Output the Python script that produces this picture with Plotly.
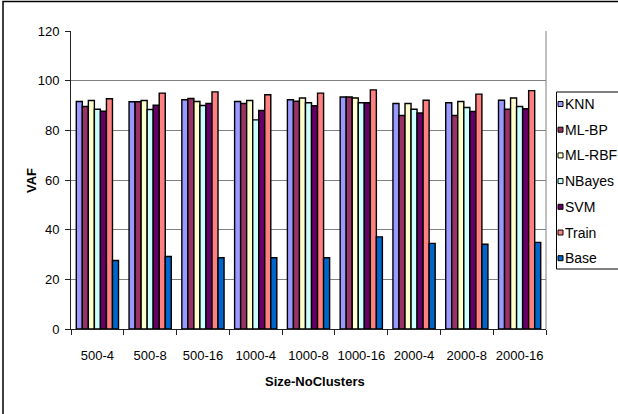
import plotly.graph_objects as go

categories = ["500-4", "500-8", "500-16", "1000-4", "1000-8", "1000-16",
              "2000-4", "2000-8", "2000-16"]

knn    = [91.6, 91.5, 92.3, 91.6, 92.3, 93.4, 90.8, 91.1, 92.1]
ml_bp  = [89.6, 91.5, 92.8, 90.8, 91.7, 93.4, 86.0, 86.0, 88.5]
ml_rbf = [92.0, 92.0, 91.6, 92.0, 93.0, 93.0, 90.8, 91.6, 93.0]
nbayes = [88.5, 88.4, 90.0, 84.2, 91.1, 91.1, 88.5, 89.2, 89.6]
svm    = [87.7, 90.1, 90.8, 88.0, 89.9, 91.1, 87.0, 87.6, 88.7]
train  = [92.7, 95.0, 95.5, 94.3, 95.0, 96.3, 92.1, 94.6, 96.0]
base   = [27.6, 29.2, 28.7, 28.7, 28.7, 37.1, 34.5, 34.1, 34.9]

series_names = ["KNN", "ML-BP", "ML-RBF", "NBayes", "SVM", "Train", "Base"]
series_values = [knn, ml_bp, ml_rbf, nbayes, svm, train, base]
series_colors = ["#9999FF", "#993366", "#FFFFCC", "#CCFFFF", "#660066", "#FF8080", "#0066CC"]

FONT = "Liberation Sans, Arial, sans-serif"

# plot area in pixels: x 71..546, y 31..329
L, R, T, B = 71, 72, 31, 85
W, H = 618, 414
pw, ph = W - L - R, H - T - B

def px_x(p):
    return (p - L) / pw

def px_y(p):
    return (H - B - p) / ph

fig = go.Figure()
for name, vals, col in zip(series_names, series_values, series_colors):
    fig.add_trace(go.Bar(
        x=categories, y=vals, name=name, showlegend=False,
        marker=dict(color=col, line=dict(color="#000000", width=1.4)),
    ))

shapes = [
    # right edge of the plot area
    dict(type="line", xref="paper", yref="paper", x0=1, x1=1, y0=0, y1=1,
         line=dict(color="#808080", width=1)),
    # outer chart frame
    dict(type="rect", xref="paper", yref="paper",
         x0=px_x(3), x1=px_x(640), y0=px_y(440), y1=px_y(1.5),
         line=dict(color="#000000", width=1.5), layer="above"),
    # legend box
    dict(type="rect", xref="paper", yref="paper",
         x0=px_x(556.5), x1=px_x(630), y0=px_y(269), y1=px_y(92),
         line=dict(color="#000000", width=1), fillcolor="white", layer="above"),
]

annotations = [
    dict(text="<b>Size-NoClusters</b>", xref="paper", yref="paper",
         x=px_x(315), y=px_y(381), xanchor="center", yanchor="middle",
         showarrow=False, font=dict(family=FONT, size=13)),
    dict(text="<b>VAF</b>", xref="paper", yref="paper",
         x=px_x(31), y=px_y(181), xanchor="center", yanchor="middle",
         textangle=-90, showarrow=False, font=dict(family=FONT, size=13)),
]

# legend entries: small outlined swatch + label
entry_top, entry_step = 104, 25.7
for i, (name, col) in enumerate(zip(series_names, series_colors)):
    cy = entry_top + i * entry_step
    shapes.append(dict(
        type="rect", xref="paper", yref="paper",
        x0=px_x(558), x1=px_x(563), y0=px_y(cy + 2.5), y1=px_y(cy - 2.5),
        fillcolor=col, line=dict(color="#000000", width=1), layer="above"))
    annotations.append(dict(
        text=name, xref="paper", yref="paper",
        x=px_x(563), y=px_y(cy), xanchor="left", yanchor="middle",
        showarrow=False, font=dict(family=FONT, size=14, color="#000000")))

fig.update_layout(
    width=W, height=H,
    margin=dict(l=L, r=R, t=T, b=B, pad=0, autoexpand=False),
    paper_bgcolor="white", plot_bgcolor="white",
    font=dict(family=FONT, size=13, color="#000000"),
    barmode="group", bargap=0.2, bargroupgap=0,
    showlegend=False,
    xaxis=dict(
        type="category", showgrid=False,
        showline=True, linecolor="#222222", linewidth=1,
        ticks="outside", tickson="boundaries", ticklen=5,
        tickcolor="#222222", tickfont=dict(family=FONT, size=13),
        tickangle=0, ticklabelstandoff=14,
    ),
    yaxis=dict(
        range=[0, 120], dtick=20, tick0=0,
        showgrid=True, gridcolor="#808080", gridwidth=1,
        showline=True, linecolor="#222222", linewidth=1,
        ticks="outside", ticklen=5, tickcolor="#222222",
        tickfont=dict(family=FONT, size=13), ticklabelstandoff=3,
        zeroline=False,
    ),
    annotations=annotations,
    shapes=shapes,
)

fig.write_html("out.html")
